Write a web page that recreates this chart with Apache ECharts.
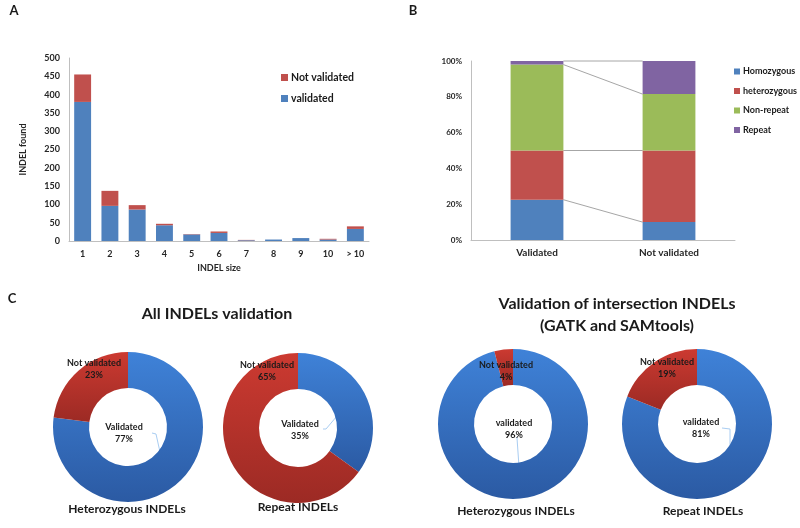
<!DOCTYPE html>
<html>
<head>
<meta charset="utf-8">
<script src="https://cdn.jsdelivr.net/npm/echarts@6/dist/echarts.min.js"></script>
<style>
  html, body { margin: 0; background: #fff; }
  #chart-container { width: 800px; height: 528px; }
</style>
</head>
<body>
<div id="chart-container"></div>
<script>
// Panel A: INDEL size vs found
const tamanos = ['1', '2', '3', '4', '5', '6', '7', '8', '9', '10', '> 10'];
const validados = [380, 96, 86, 43, 18, 22, 2, 4, 8, 4, 33];
const noValidados = [75, 41, 12, 4, 1, 4, 1, 0, 0, 2, 7];

// Panel B: 100% stacked
const grupos = ['Validated', 'Not validated'];
const homocigotos = [22.5, 10];
const heterocigotos = [27.5, 40];
const noRepetidos = [48, 31.5];
const repetidos = [2, 18.5];

// Panel C: donuts
const nombresTodos = ['Validated', 'Not validated'];
const nombresInter = ['validated', 'Not validated'];
const hetTodos = [77, 23];
const repTodos = [35, 65];
const hetInter = [96, 4];
const repInter = [81, 19];
const subtitulos = ['Heterozygous INDELs', 'Repeat INDELs', 'Heterozygous INDELs', 'Repeat INDELs'];

const fuente = 'Lato';
const azul = '#4f81bd', rojo = '#c0504d', verde = '#9bbb59', morado = '#8064a2';

let myChart = echarts.init(document.getElementById('chart-container'), null, { renderer: 'canvas' });

// layout of the donuts (centre, label offsets, leader line offsets)
const tortas = [
  { c: [128, 427], nv: [-34, -58], v: [-4, 6], linea: [[24, 6], [28, 7], [36, 43]], sub: [127, 509] },
  { c: [298, 428], nv: [-31, -57], v: [2, 2], linea: [[25, 1], [28, 1], [50, -25]], sub: [298, 507] },
  { c: [513, 424], nv: [-7, -53], v: [1, 5], linea: [[3, 13], [4, 14], [7, 57]], sub: [516, 511] },
  { c: [697, 424], nv: [-30, -56], v: [4, 4], linea: [[25, 4], [33, 5], [33, 48]], sub: [703, 511] }
];
const valoresTortas = [hetTodos, repTodos, hetInter, repInter];
const nombresTortas = [nombresTodos, nombresTodos, nombresInter, nombresInter];

function degradado(a, b) {
  return new echarts.graphic.LinearGradient(0, 0, 0, 1, [
    { offset: 0, color: a }, { offset: 1, color: b }
  ]);
}

const seriesTortas = tortas.map((t, i) => ({
  type: 'pie',
  center: t.c,
  radius: [39, 75],
  startAngle: 90,
  clockwise: true,
  avoidLabelOverlap: false,
  silent: true,
  data: valoresTortas[i].map((v, j) => ({
    name: nombresTortas[i][j],
    value: v,
    itemStyle: { color: j === 0 ? degradado('#3f82d8', '#2b5aa3') : degradado('#cc3a31', '#9c2a24') },
    labelLine: { show: j === 0 }
  })),
  label: {
    show: true,
    position: 'outside',
    formatter: p => p.name + '\n' + p.value + '%',
    fontFamily: fuente, fontWeight: 'bold', fontSize: 9, color: '#1a1a1a',
    lineHeight: 12, align: 'center'
  },
  labelLine: { lineStyle: { color: '#a9cdf2', width: 1 } },
  labelLayout: params => {
    const off = params.dataIndex === 0 ? t.v : t.nv;
    return {
      x: t.c[0] + off[0],
      y: t.c[1] + off[1],
      align: 'center',
      verticalAlign: 'middle',
      labelLinePoints: t.linea.map(p => [t.c[0] + p[0], t.c[1] + p[1]])
    };
  }
}));

// series lines in panel B
const acumulado = [homocigotos, heterocigotos, noRepetidos, repetidos];
const niveles = [];
let suma = [0, 0];
acumulado.forEach(s => {
  suma = [suma[0] + s[0], suma[1] + s[1]];
  niveles.push([0, suma[0], suma[1]]);
});

const titulo = (text, x, y, size, alto) => ({
  text: text, left: x, top: y, padding: 0, textAlign: 'center',
  textStyle: { fontFamily: fuente, fontWeight: 'bold', fontSize: size, color: '#1a1a1a', lineHeight: alto || size + 4 }
});

const etiquetaEje = { fontFamily: fuente, fontWeight: 'bold', color: '#262626' };

const opciones = {
  animation: false,
  backgroundColor: '#fff',
  title: [
    titulo('A', 14, 2, 13),
    titulo('B', 413, 2, 13),
    titulo('C', 12, 290, 13),
    titulo('All INDELs validation', 217, 304, 16),
    titulo('Validation of intersection INDELs\n(GATK and SAMtools)', 617, 293, 16, 22)
  ].concat(tortas.map((t, i) => titulo(subtitulos[i], t.sub[0], t.sub[1] - 8, 12))),
  legend: [
    {
      data: ['Not validated', 'validated'],
      orient: 'vertical', left: 281, top: 72, itemGap: 10, padding: 0,
      itemWidth: 7, itemHeight: 7, icon: 'rect',
      selectedMode: false,
      textStyle: { fontFamily: fuente, fontWeight: 'bold', fontSize: 10.5, color: '#1a1a1a', padding: [0, 0, 0, -2] }
    },
    {
      data: ['Homozygous', 'heterozygous', 'Non-repeat', 'Repeat'],
      orient: 'vertical', left: 734, top: 67, itemGap: 10.5, padding: 0,
      itemWidth: 6, itemHeight: 6, icon: 'rect',
      selectedMode: false,
      textStyle: { fontFamily: fuente, fontWeight: 'bold', fontSize: 9, color: '#1a1a1a', padding: [0, 0, 0, -2] }
    }
  ],
  grid: [
    { left: 69, top: 58, width: 300, height: 183 },
    { left: 471, top: 61, width: 264, height: 179 }
  ],
  xAxis: [
    {
      type: 'category', data: tamanos, gridIndex: 0,
      axisLine: { lineStyle: { color: '#bfbfbf' } },
      axisTick: { show: false },
      axisLabel: Object.assign({ fontSize: 9, margin: 9 }, etiquetaEje),
      name: 'INDEL size', nameLocation: 'middle', nameGap: 23,
      nameTextStyle: Object.assign({ fontSize: 9 }, etiquetaEje)
    },
    {
      type: 'category', data: grupos, gridIndex: 1,
      axisLine: { lineStyle: { color: '#bfbfbf' } },
      axisTick: { show: false },
      axisLabel: Object.assign({ fontSize: 10, margin: 8 }, etiquetaEje)
    }
  ],
  yAxis: [
    {
      type: 'value', gridIndex: 0, min: 0, max: 500, interval: 50,
      axisLine: { show: true, lineStyle: { color: '#bfbfbf' } },
      axisTick: { show: false },
      splitLine: { show: false },
      axisLabel: Object.assign({ fontSize: 9, margin: 9 }, etiquetaEje),
      name: 'INDEL found', nameLocation: 'middle', nameGap: 41,
      nameTextStyle: Object.assign({ fontSize: 9 }, etiquetaEje)
    },
    {
      type: 'value', gridIndex: 1, min: 0, max: 100, interval: 20,
      axisLine: { show: true, lineStyle: { color: '#bfbfbf' } },
      axisTick: { show: false },
      splitLine: { show: false },
      axisLabel: Object.assign({ fontSize: 8, margin: 9, formatter: '{value}%' }, etiquetaEje)
    }
  ],
  series: [
    { name: 'validated', type: 'bar', stack: 'a', xAxisIndex: 0, yAxisIndex: 0, barWidth: '62%',
      data: validados, itemStyle: { color: azul } },
    { name: 'Not validated', type: 'bar', stack: 'a', xAxisIndex: 0, yAxisIndex: 0, barWidth: '62%',
      data: noValidados, itemStyle: { color: rojo } },
    { name: 'Homozygous', type: 'bar', stack: 'b', xAxisIndex: 1, yAxisIndex: 1, barWidth: '40%',
      data: homocigotos, itemStyle: { color: azul } },
    { name: 'heterozygous', type: 'bar', stack: 'b', xAxisIndex: 1, yAxisIndex: 1, barWidth: '40%',
      data: heterocigotos, itemStyle: { color: rojo } },
    { name: 'Non-repeat', type: 'bar', stack: 'b', xAxisIndex: 1, yAxisIndex: 1, barWidth: '40%',
      data: noRepetidos, itemStyle: { color: verde } },
    { name: 'Repeat', type: 'bar', stack: 'b', xAxisIndex: 1, yAxisIndex: 1, barWidth: '40%',
      data: repetidos, itemStyle: { color: morado } },
    {
      type: 'custom', xAxisIndex: 1, yAxisIndex: 1, silent: true, z: 1,
      data: niveles, encode: { x: 0, y: [1, 2] },
      renderItem: (params, api) => {
        const p0 = api.coord([0, api.value(1)]);
        const p1 = api.coord([1, api.value(2)]);
        const mitad = api.size([1, 0])[0] * 0.4 / 2;
        return {
          type: 'line',
          shape: { x1: p0[0] + mitad, y1: p0[1], x2: p1[0] - mitad, y2: p1[1] },
          style: { stroke: '#a6a6a6', lineWidth: 1 }
        };
      }
    }
  ].concat(seriesTortas)
};

myChart.setOption(opciones, true);
window.addEventListener('resize', myChart.resize);
</script>
</body>
</html>
